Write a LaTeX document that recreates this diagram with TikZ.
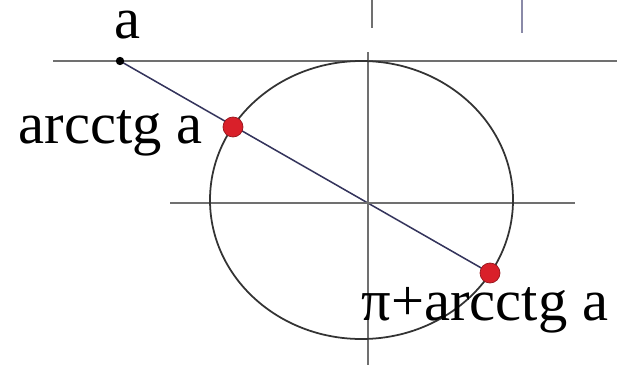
\documentclass[tikz,border=0pt]{standalone}
\usepackage{fontspec}
\setmainfont{Liberation Serif}
\usetikzlibrary{backgrounds}
\definecolor{axisgray}{HTML}{707070}
\definecolor{navy}{HTML}{34345C}
\definecolor{dotred}{HTML}{D9202A}
\definecolor{fadeblue}{HTML}{8A8AA8}
\begin{document}
\begin{tikzpicture}[x=0.03cm,y=-0.03cm,line width=1.2pt,
    every node/.style={font=\fontsize{50}{56}\selectfont,inner sep=0pt},
    axis/.style={axisgray,line width=1.2pt},
    reddot/.style={circle,fill=dotred,draw=dotred!70!black,line width=0.6pt,minimum size=0.6cm},
    blackdot/.style={circle,fill=black,minimum size=0.25cm}]
  \useasboundingbox (0,0) rectangle (617,365);
  \coordinate (O) at (368,203);
  \coordinate (C) at (361.5,200);

  % axes and circle
  \draw[axis] (53,61) -- (617,61);
  \draw[axis] (170,203) -- (575,203);
  \draw[axis] (368,52) -- (368,365);
  \draw[black!80,line width=1.5pt] (C) ellipse [x radius=4.545cm, y radius=4.17cm];

  % bits of the figure above
  \draw[axis] (372,0) -- (372,28);
  \draw[fadeblue,line width=1.3pt] (522,0) -- (522,33);

  % points
  \node[blackdot] (A) at (120,61) {};
  \node[reddot] (P) at (233,127) {};
  \node[reddot] (Q) at (490,273) {};
  \begin{scope}[on background layer]
    \draw[navy,line width=1.3pt] (A.center) -- (Q.center);
  \end{scope}

  \node[anchor=base west] (la) at (114,38) {a};
  \node[anchor=base west] (lp) at (18,143) {arcctg a};
  \node[anchor=base west] (lq) at (361,320) {π+arcctg a};
\end{tikzpicture}
\end{document}
